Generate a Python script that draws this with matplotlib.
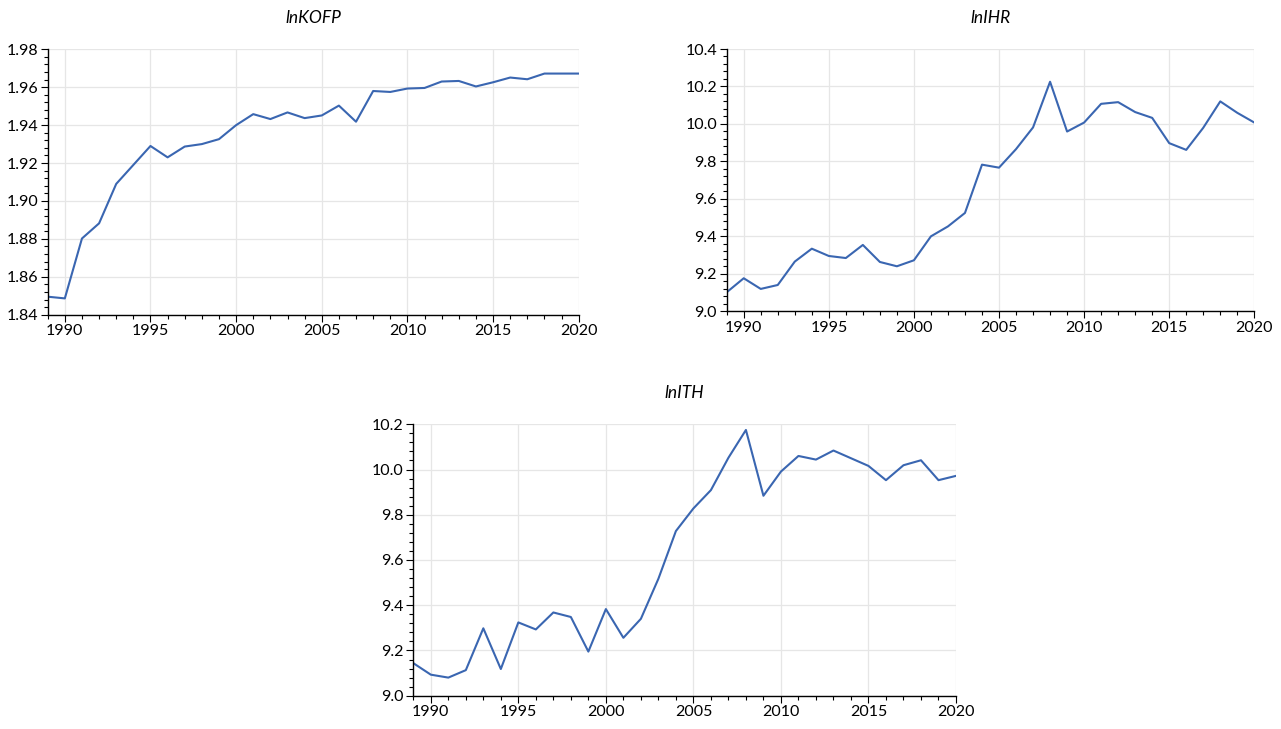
import matplotlib
matplotlib.use("Agg")
import matplotlib.pyplot as plt
from matplotlib.ticker import AutoMinorLocator, MultipleLocator, FormatStrFormatter

plt.rcParams['font.family'] = ['Lato', 'DejaVu Sans']

years = list(range(1989, 2021))

ln_kofp = [1.8495, 1.8486, 1.8802, 1.8882, 1.9090, 1.9190, 1.9290, 1.9230,
           1.9287, 1.9300, 1.9326, 1.9400, 1.9458, 1.9432, 1.9467, 1.9437,
           1.9451, 1.9503, 1.9418, 1.9580, 1.9575, 1.9593, 1.9596, 1.9630,
           1.9633, 1.9604, 1.9626, 1.9651, 1.9642, 1.9672, 1.9672, 1.9672]

ln_ihr = [9.100, 9.175, 9.118, 9.139, 9.264, 9.333, 9.294, 9.283,
          9.353, 9.262, 9.239, 9.271, 9.399, 9.452, 9.524, 9.782,
          9.766, 9.865, 9.981, 10.225, 9.959, 10.007, 10.107, 10.116,
          10.063, 10.032, 9.897, 9.861, 9.979, 10.120, 10.059, 10.007]

ln_ith = [9.144, 9.093, 9.080, 9.113, 9.298, 9.118, 9.324, 9.293,
          9.368, 9.348, 9.195, 9.383, 9.256, 9.340, 9.517, 9.728,
          9.828, 9.909, 10.052, 10.175, 9.884, 9.991, 10.060, 10.044,
          10.084, 10.050, 10.016, 9.953, 10.019, 10.041, 9.953, 9.972]

titles = ["lnKOFP", "lnIHR", "lnITH"]
series = [ln_kofp, ln_ihr, ln_ith]
ylims = [(1.84, 1.98), (9.0, 10.4), (9.0, 10.2)]
ysteps = [0.02, 0.2, 0.2]
yfmts = ['%.2f', '%.1f', '%.1f']
xticks = [1990, 1995, 2000, 2005, 2010, 2015, 2020]

W, H = 1281, 729
boxes = [
    (47.7, 49.3, 578.7, 314.7),
    (726.7, 49.0, 1254.3, 311.0),
    (413.3, 424.3, 956.0, 695.7),
]

fig = plt.figure(figsize=(W / 100, H / 100), dpi=100)
line_color = '#3a66b1'

for (x0, y0, x1, y1), title, vals, ylim, ystep, yfmt in zip(boxes, titles, series, ylims, ysteps, yfmts):
    ax = fig.add_axes([x0 / W, 1 - y1 / H, (x1 - x0) / W, (y1 - y0) / H])
    ax.plot(years, vals, color=line_color, linewidth=1.5)
    ax.set_xlim(1989, 2020)
    ax.set_ylim(*ylim)
    ax.set_xticks(xticks)
    ax.xaxis.set_minor_locator(MultipleLocator(1))
    ax.yaxis.set_major_locator(MultipleLocator(ystep))
    ax.yaxis.set_minor_locator(AutoMinorLocator(5))
    ax.yaxis.set_major_formatter(FormatStrFormatter(yfmt))
    for s in ['top', 'right']:
        ax.spines[s].set_visible(False)
    for s in ['left', 'bottom']:
        ax.spines[s].set_color('black')
        ax.spines[s].set_linewidth(1.0)
    ax.grid(True, which='major', color='#e6e6e6', linewidth=0.9)
    ax.set_axisbelow(True)
    ax.tick_params(axis='both', which='major', labelsize=11.5, length=5, width=0.8,
                   direction='out', colors='black', pad=2)
    ax.tick_params(axis='both', which='minor', length=3, width=0.8, direction='out')
    ax.set_title(title, fontstyle='italic', fontsize=12.5, pad=19)

fig.savefig('out.png', dpi=100, facecolor='white')
